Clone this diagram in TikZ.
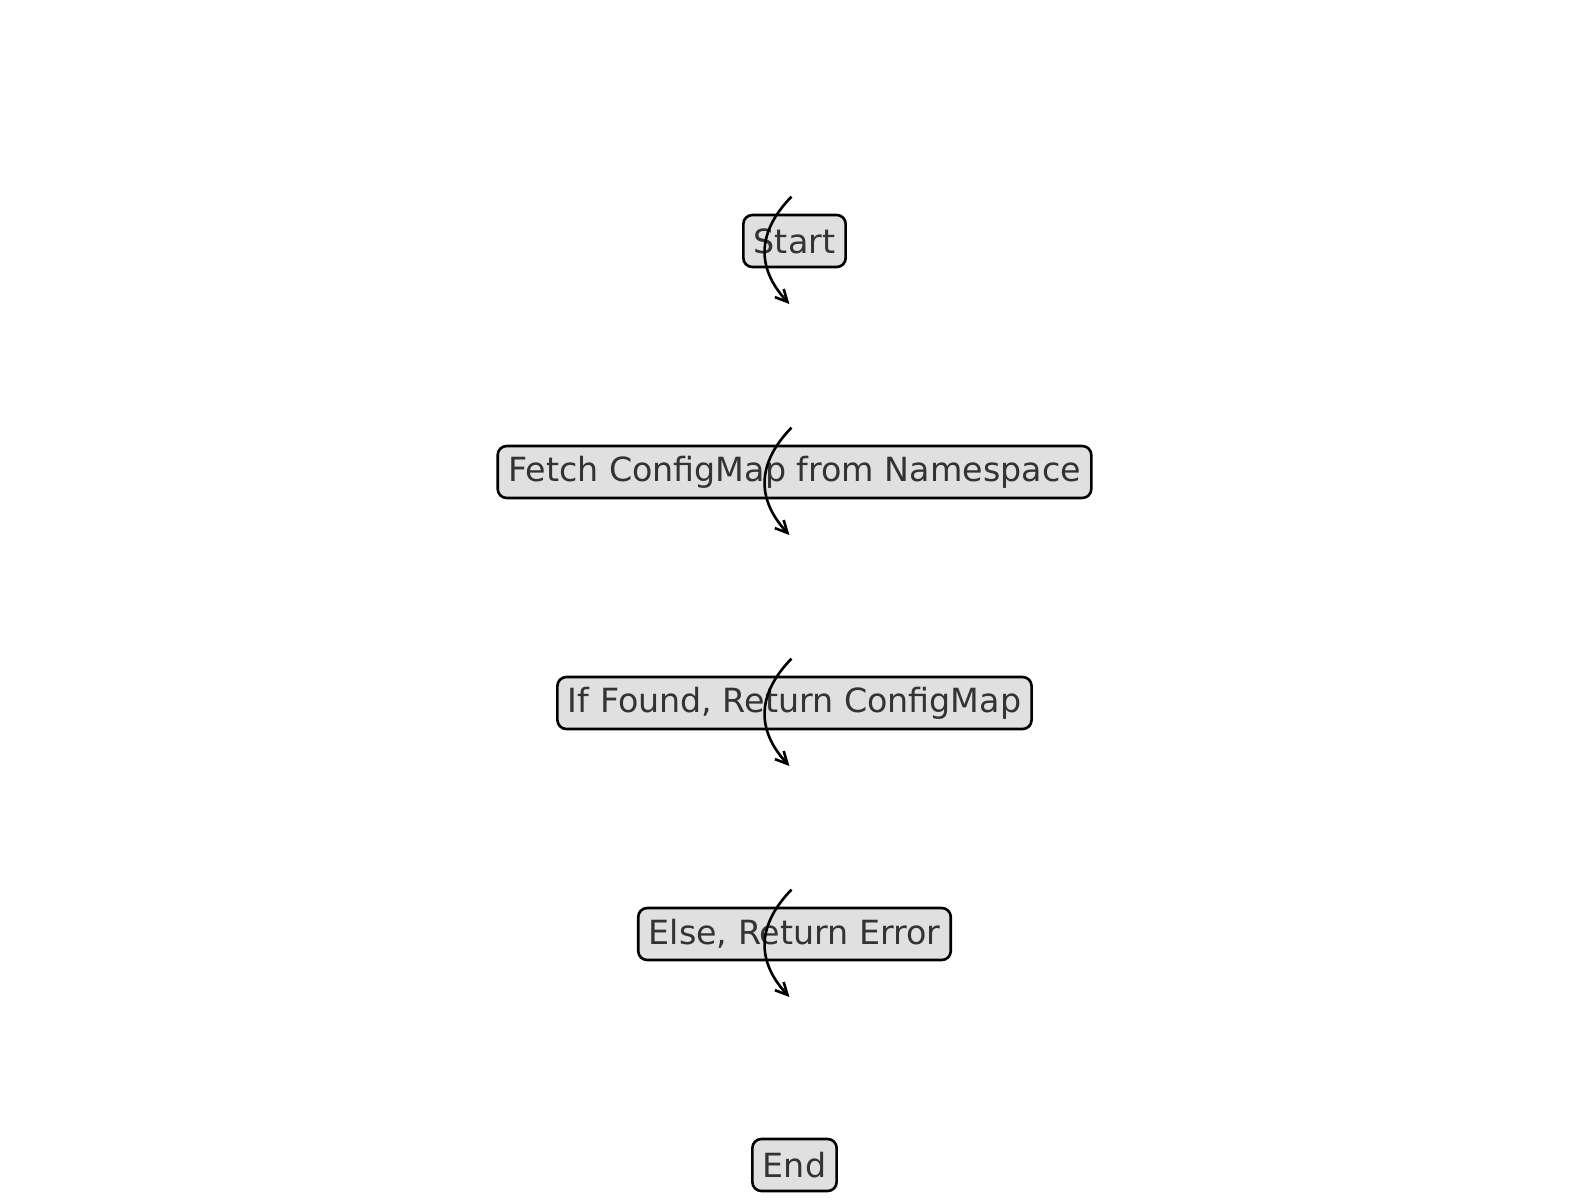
\documentclass[tikz,border=0pt]{standalone}
\usepackage{fontspec}
\setmainfont{DejaVu Sans}
\usetikzlibrary{arrows.meta}
\definecolor{boxfill}{HTML}{E0E0E0}
\definecolor{boxtext}{HTML}{333333}
\begin{document}
\begin{tikzpicture}[x=1pt,y=-1pt,
  stepbox/.style={draw=black, line width=2.6pt, fill=boxfill, text=boxtext,
    rounded corners=9pt, inner xsep=10.5pt, inner ysep=0pt, minimum height=52pt,
    font=\fontsize{33.3}{40}\selectfont},
  flow/.style={draw=black, line width=2.6pt,
    -{Straight Barb[length=12pt,width=12pt,line width=2.6pt]}}]
  \useasboundingbox (0,0) rectangle (1589,1202);
  % process steps, top to bottom
  \node[stepbox] (start) at (794.5,241) {Start};
  \node[stepbox] (fetch) at (794.5,472) {Fetch ConfigMap from Namespace};
  \node[stepbox] (found) at (794.5,703) {If Found, Return ConfigMap};
  \node[stepbox] (error) at (794.5,934) {Else, Return Error};
  \node[stepbox] (end) at (794.5,1165) {End};
  % curved connectors leaving each step
  \foreach \n in {start,fetch,found,error}{
    \draw[flow] ([shift={(-3,-44.4)}]\n.center)
      .. controls ([shift={(-37.7,-8.8)}]\n.center) and ([shift={(-38.4,27)}]\n.center)
      .. ([shift={(-5.1,63)}]\n.center);
  }
\end{tikzpicture}
\end{document}
